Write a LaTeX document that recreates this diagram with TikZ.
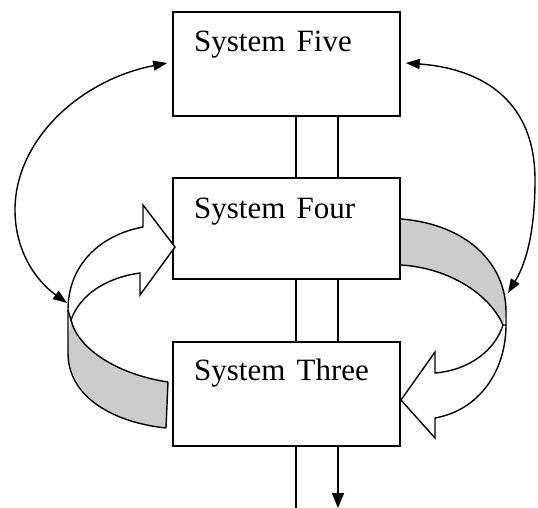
\documentclass[tikz,border=0pt]{standalone}
\usepackage{fontspec}
\setmainfont{Liberation Serif}
\usetikzlibrary{arrows.meta}
\definecolor{ribbongray}{RGB}{204,204,204}
\tikzset{
  sysbox/.style={draw, line width=1.6pt, minimum width=227pt, inner sep=0pt},
  systext/.style={anchor=base west, inner sep=0pt, font=\fontsize{31}{36}\selectfont},
  link/.style={line width=1.5pt},
  loop/.style={line width=1.4pt, {Triangle[length=14pt,width=10pt]}-{Triangle[length=14pt,width=10pt]}},
  ribbon/.style={line width=1.4pt, line join=miter},
}
\begin{document}
\begin{tikzpicture}[x=1pt,y=-1pt]
\useasboundingbox (0,0) rectangle (538,508);

% the three system boxes
\node[sysbox, minimum height=104pt] (five)  at (286.5,64)  {};
\node[sysbox, minimum height=101pt] (four)  at (286.5,228.5) {};
\node[sysbox, minimum height=104pt] (three) at (286.5,394) {};

\node[systext] (t5) at (194,52)  {System\hspace{.36em}Five};
\node[systext] (t4) at (194,218) {System\hspace{.36em}Four};
\node[systext] (t3) at (194,380) {System\hspace{.36em}Three};

% vertical channels between the boxes
\foreach \s in {9.5,51.5}{
  \draw[link] ([xshift=\s pt]five.south) -- ([xshift=\s pt]four.north);
  \draw[link] ([xshift=\s pt]four.south) -- ([xshift=\s pt]three.north);
}
\coordinate (outA) at (296,508);
\coordinate (outB) at (338,508);
\draw[link] ([xshift=9.5pt]three.south) -- (outA);
\draw[link, -{Triangle[length=15pt,width=12pt]}] ([xshift=51.5pt]three.south) -- (outB);

% double-headed loops from System Five
\coordinate (lend) at (67,303);
\coordinate (rend) at (508,293);
\draw[loop] (lend) .. controls (35,280) and (15,250) .. (15,210)
                   .. controls (15,140) and (80,80) .. ([xshift=-5pt,yshift=1pt]five.west);
\draw[loop] ([xshift=5pt,yshift=1pt]five.east) .. controls (475,68) and (535,95) .. (535,180)
                   .. controls (535,235) and (525,265) .. (rend);

% left ribbon arrow: grey underside, then white face turning into System Four
\fill[ribbongray] (168,382) .. controls (120,375) and (78,350) .. (71,320)
   .. controls (68,335) and (68,345) .. (68,353)
   .. controls (72,395) and (110,422) .. (166,428) -- cycle;
\draw[ribbon, fill=white] (71,320) .. controls (80,295) and (105,278) .. (140,273)
   -- (140,295) -- (175,247) -- (143,205) -- (143,227)
   .. controls (100,235) and (68,265) .. (68,310) -- cycle;
\draw[ribbon] (168,382) .. controls (120,375) and (78,350) .. (71,320);
\draw[ribbon] (166,428) .. controls (110,422) and (68,395) .. (68,353) -- (68,310);
\draw[ribbon] (168,382) -- (166,428);

% right ribbon arrow: grey underside from System Four, white face into System Three
\fill[ribbongray] (401,219) .. controls (465,224) and (506,262) .. (506,312)
   -- (503,325) .. controls (490,295) and (450,268) .. (401,265) -- cycle;
\draw[ribbon, fill=white] (503,325) .. controls (495,350) and (470,370) .. (435,373)
   -- (435,352) -- (401,400) -- (435,438) -- (435,418)
   .. controls (480,410) and (506,370) .. (506,325) -- cycle;
\draw[ribbon] (401,219) .. controls (465,224) and (506,262) .. (506,312) -- (506,325);
\draw[ribbon] (401,265) .. controls (450,268) and (490,295) .. (503,325);
\end{tikzpicture}
\end{document}
